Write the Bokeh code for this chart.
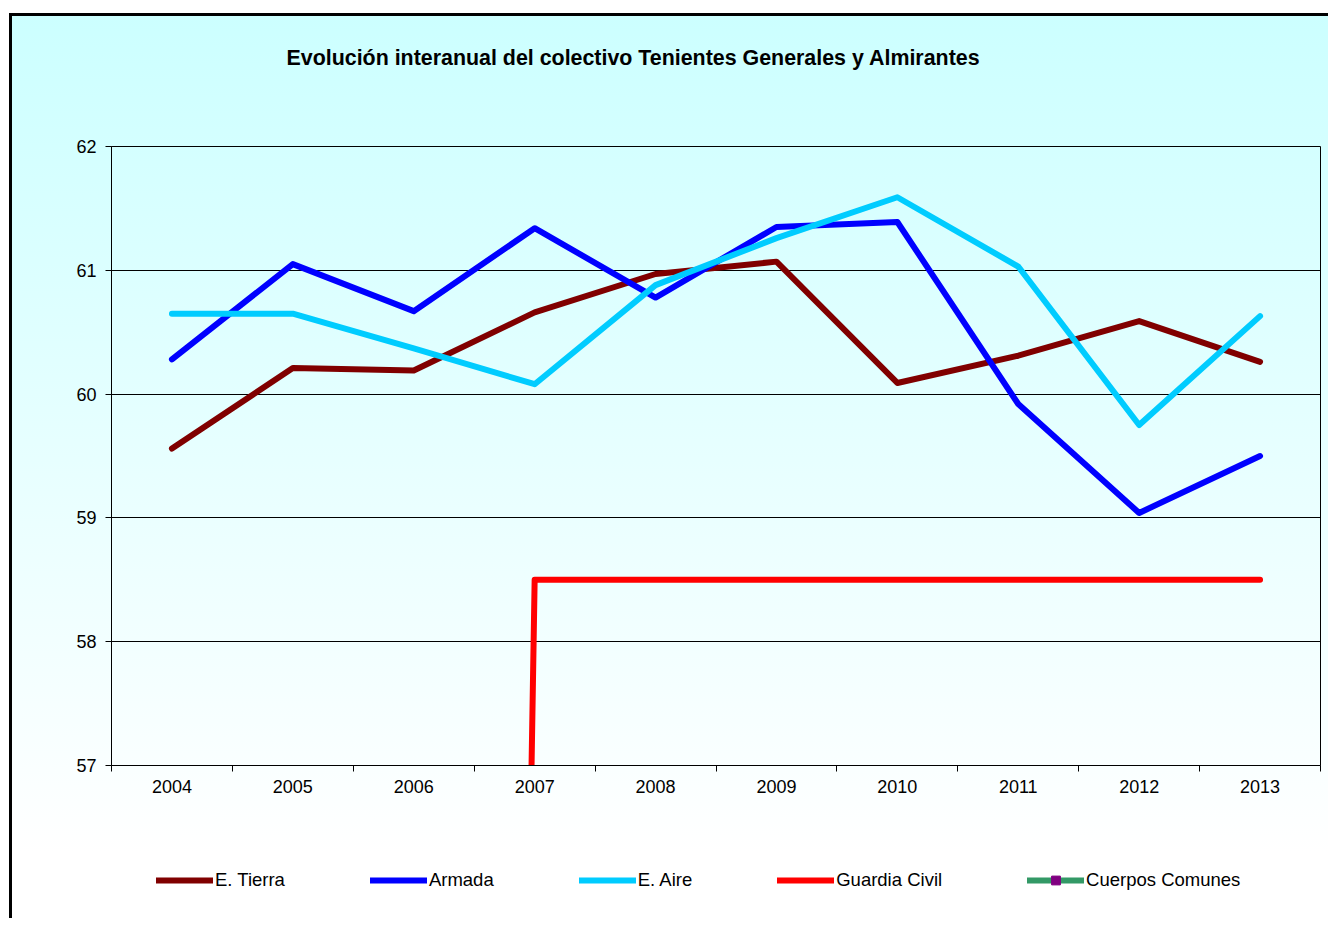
from bokeh.plotting import figure
from bokeh.layouts import column
from bokeh.models import Range1d, FixedTicker, Legend, LegendItem, Label
from bokeh.embed import file_html
from bokeh.resources import INLINE

years = ["2004", "2005", "2006", "2007", "2008", "2009", "2010", "2011", "2012", "2013"]
tierra = [59.56, 60.21, 60.19, 60.66, 60.97, 61.07, 60.09, 60.31, 60.59, 60.26]
armada = [60.28, 61.05, 60.67, 61.34, 60.78, 61.35, 61.39, 59.92, 59.04, 59.50]
aire = [60.65, 60.65, 60.37, 60.08, 60.88, 61.26, 61.59, 61.03, 59.75, 60.63]
guardia = [0, 0, 0, 58.5, 58.5, 58.5, 58.5, 58.5, 58.5, 58.5]
comunes = [0, 0, 0, 0, 0, 0, 0, 0, 0, 0]
y_ticks = [57, 58, 59, 60, 61, 62]
title_text = "Evolución interanual del colectivo Tenientes Generales y Almirantes"

series = [
    ("E. Tierra", tierra, "#800000"),
    ("Armada", armada, "#0000FF"),
    ("E. Aire", aire, "#00CCFF"),
    ("Guardia Civil", guardia, "#FF0000"),
    ("Cuerpos Comunes", comunes, "#339966"),
]
marker_color = "#800080"

FONT = "Liberation Sans"

xs = [i + 0.5 for i in range(len(years))]

W = 1328
H0 = 126   # title strip
H1 = 689   # main chart (frame top at 146, bottom at 765)
H2 = 103   # legend strip
FRAME_LEFT = 111  # strips share the main chart's frame left edge


def bare(fig):
    fig.background_fill_color = None
    fig.border_fill_color = None
    fig.outline_line_color = None
    return fig


# ---- title strip
p0 = bare(figure(width=W, height=H0, output_backend="svg", toolbar_location=None,
                 x_range=Range1d(0, 1), y_range=Range1d(0, 1),
                 x_axis_location=None, y_axis_location=None,
                 min_border_left=0, min_border_right=0, min_border_top=0, min_border_bottom=0))
p0.grid.visible = False
p0.add_layout(Label(x=286 - FRAME_LEFT, y=H0 - 57, x_units="screen", y_units="screen",
                    text=title_text,
                    text_font=FONT, text_font_size="21.4px", text_font_style="bold",
                    text_color="black", text_baseline="middle", text_align="left"))

# ---- main chart
p = figure(width=W, height=H1, output_backend="svg", toolbar_location=None,
           x_range=Range1d(0, len(years)), y_range=Range1d(57, 62),
           min_border_left=FRAME_LEFT, min_border_right=W - 1320, min_border_top=146 - H0,
           min_border_bottom=H1 - (765 - H0))
p.background_fill_color = None
p.border_fill_color = None
p.outline_line_color = "black"
p.outline_line_width = 1

p.xgrid.visible = False
p.ygrid.grid_line_color = "black"
p.ygrid.grid_line_width = 1
p.ygrid.ticker = FixedTicker(ticks=y_ticks)

p.xaxis.ticker = FixedTicker(ticks=xs, minor_ticks=list(range(len(years) + 1)))
p.xaxis.major_label_overrides = {x: y for x, y in zip(xs, years)}
p.xaxis.major_tick_out = 0
p.xaxis.major_tick_in = 0
p.xaxis.minor_tick_out = 6
p.xaxis.minor_tick_in = 0
p.xaxis.minor_tick_line_color = "black"
p.xaxis.major_label_standoff = 8

p.yaxis.ticker = FixedTicker(ticks=y_ticks)
p.yaxis.major_tick_out = 6
p.yaxis.major_tick_in = 0
p.yaxis.minor_tick_line_color = None
p.yaxis.major_label_standoff = 9

for ax in (p.xaxis, p.yaxis):
    ax.axis_line_color = "black"
    ax.major_tick_line_color = "black"
    ax.major_label_text_font = FONT
    ax.major_label_text_font_size = "18px"
    ax.major_label_text_color = "black"

lw = 6
common = dict(line_width=lw, line_join="round", line_cap="round")
for name, vals, color in series:
    p.line(xs, vals, line_color=color, **common)
p.scatter(xs, comunes, marker="square", size=6, fill_color=marker_color, line_color=marker_color)

# ---- legend strip (series drawn off-range; only the legend is visible)
p2 = bare(figure(width=W, height=H2, output_backend="svg", toolbar_location=None,
                 x_range=Range1d(0, 1), y_range=Range1d(1000, 1001),
                 x_axis_location=None, y_axis_location=None,
                 min_border_left=0, min_border_right=0, min_border_top=0, min_border_bottom=0))
p2.grid.visible = False

items = []
for name, vals, color in series:
    rr = [p2.line(xs, vals, line_color=color, **common)]
    if name == "Cuerpos Comunes":
        rr.append(p2.scatter(xs, vals, marker="square", size=6, fill_color=marker_color,
                             line_color=marker_color))
    items.append(LegendItem(label=name, renderers=rr))

legend = Legend(items=items, orientation="horizontal", location=(156 - FRAME_LEFT, 27),
                spacing=85, glyph_width=57, glyph_height=22, label_height=22,
                label_standoff=2, padding=0, margin=0, border_line_color=None,
                background_fill_alpha=0,
                label_text_font=FONT, label_text_font_size="18.5px", label_text_color="black")
p2.add_layout(legend)

layout = column(p0, p, p2, spacing=0)
layout.styles = {
    "background": "linear-gradient(#000,#000) 9px 13px / 3px 100% no-repeat, "
                  "linear-gradient(#000,#000) 9px 13px / 100% 3px no-repeat, "
                  "linear-gradient(to bottom, #CCFFFF 0%, #FFFFFF 100%) 12px 16px / 100% 836px no-repeat, "
                  "#FFFFFF"
}

open("out.html", "w").write(file_html(layout, INLINE))
